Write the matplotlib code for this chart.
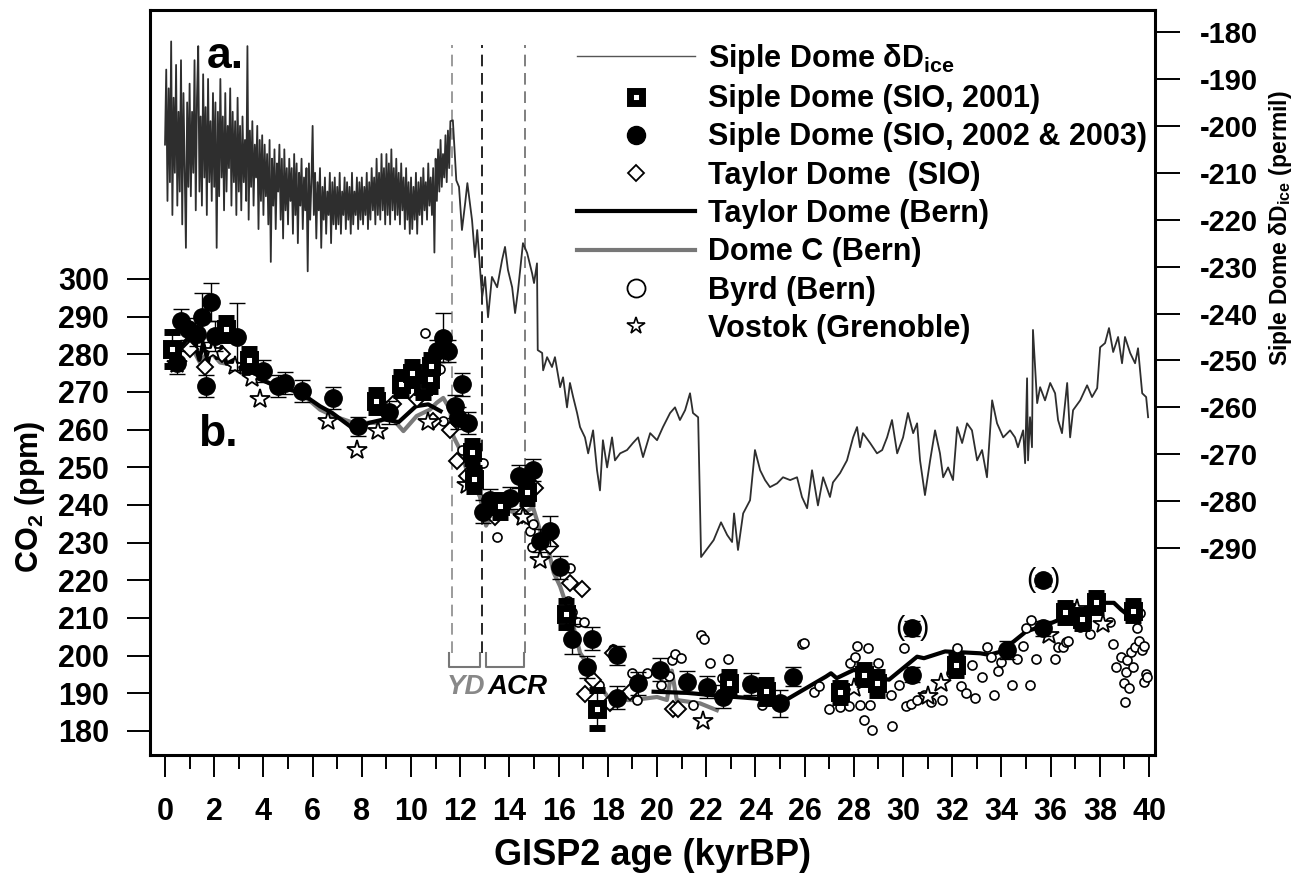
import numpy as np
import matplotlib
matplotlib.use("Agg")
import matplotlib.pyplot as plt
from matplotlib import font_manager
from matplotlib.lines import Line2D
from matplotlib.transforms import blended_transform_factory

names = {f.name for f in font_manager.fontManager.ttflist}
narrow = "Liberation Sans Narrow" if "Liberation Sans Narrow" in names else "Liberation Sans"
wide = "Liberation Sans"

plt.rcParams["font.family"] = [narrow, "DejaVu Sans"]
plt.rcParams["font.weight"] = "bold"
plt.rcParams["mathtext.default"] = "regular"
plt.rcParams["axes.unicode_minus"] = False

# ---- Siple Dome dD of ice (permil), Holocene part at 50-yr steps ----
dd_holo = [-204, -188, -216, -192, -212, -182, -219, -194, -210, -187, -217, -197, -214, -186, -221, -193, -209, -226, -195, -213,
           -191, -215, -197, -210, -186, -218, -194, -183, -214, -198, -217, -189, -211, -196, -219, -190, -212, -199, -216, -193,
           -213, -195, -226, -197, -215, -190, -211, -198, -218, -193, -214, -200, -209, -192, -217, -197, -212, -199, -219, -194,
           -214, -200, -218, -198, -212, -203, -216, -183, -220, -201, -213, -199, -217, -204, -211, -200, -222, -203, -216, -202,
           -219, -204, -215, -206, -221, -203, -229, -207, -217, -205, -222, -208, -214, -204, -220, -207, -224, -205, -218, -209,
           -221, -207, -216, -209, -223, -206, -219, -208, -225, -210, -217, -207, -222, -211, -218, -209, -231, -208, -220, -212,
           -200, -219, -210, -224, -212, -218, -209, -226, -213, -220, -211, -223, -214, -219, -210, -225, -212, -221, -211, -222,
           -213, -221, -210, -223, -214, -219, -211, -222, -212, -220, -213, -223, -210, -221, -214, -219, -211, -222, -212, -220,
           -211, -221, -213, -219, -210, -222, -212, -220, -209, -218, -211, -221, -207, -219, -210, -220, -206, -218, -209, -221,
           -206, -219, -208, -221, -205, -218, -209, -220, -207, -219, -210, -221, -208, -218, -211, -222, -209, -220, -212, -223,
           -211, -222, -213, -220, -210, -223, -212, -219, -211, -221, -209, -218, -212, -220, -208, -217, -211, -219, -209, -227,
           -207, -216, -205, -214, -203, -213, -206, -211, -202, -212, -201, -209, -199]
dd_holo_age = np.round(np.arange(len(dd_holo)) * 0.05, 2)

dd_tail_age = [11.70, 11.84, 11.95, 12.07, 12.20, 12.29, 12.48, 12.60, 12.69, 12.80,
               12.89, 13.01, 13.13, 13.29, 13.50, 13.70, 13.82, 13.94, 14.11, 14.23,
               14.35, 14.55, 14.72, 14.92, 15.00, 15.12, 15.15, 15.33, 15.37, 15.53,
               15.73, 15.85, 16.06, 16.18, 16.34, 16.46, 16.59, 16.75, 16.87, 17.07,
               17.20, 17.40, 17.56, 17.68, 17.80, 17.97, 18.17, 18.29, 18.50, 18.78,
               19.02, 19.23, 19.43, 19.72, 20.00, 20.24, 20.53, 20.73, 20.93, 21.14,
               21.34, 21.46, 21.67, 21.79, 22.30, 22.60, 22.85, 23.05, 23.13, 23.29,
               23.50, 23.78, 23.98, 24.19, 24.39, 24.59, 24.88, 25.12, 25.41, 25.69,
               25.89, 26.10, 26.30, 26.54, 26.75, 27.03, 27.15, 27.44, 27.72, 27.97,
               28.13, 28.25, 28.37, 28.66, 28.94, 29.15, 29.35, 29.55, 29.76, 30.00,
               30.20, 30.41, 30.57, 30.69, 30.89, 31.10, 31.30, 31.50, 31.63, 31.83,
               32.03, 32.20, 32.40, 32.60, 32.80, 33.01, 33.21, 33.41, 33.62, 33.82,
               34.07, 34.35, 34.55, 34.67, 34.88, 34.96, 35.04, 35.08, 35.16, 35.24,
               35.28, 35.45, 35.57, 35.77, 35.98, 36.18, 36.30, 36.46, 36.67, 36.79,
               36.91, 37.20, 37.48, 37.68, 37.89, 38.01, 38.21, 38.37, 38.54, 38.74,
               38.90, 39.02, 39.23, 39.43, 39.55, 39.72, 39.88, 39.96]
dd_tail = [-198.8, -211.6, -213.0, -222.2, -216.5, -212.2, -220.1, -228.0, -222.2, -230.1,
           -236.5, -232.2, -240.8, -232.2, -234.4, -228.6, -225.8, -230.7, -234.4, -239.9,
           -235.0, -225.0, -227.1, -231.4, -233.5, -229.3, -247.8, -248.4, -252.1, -249.3,
           -251.4, -249.3, -255.7, -253.6, -260.0, -254.8, -257.8, -261.2, -264.2, -266.4,
           -269.8, -264.9, -273.4, -277.7, -267.0, -272.8, -266.4, -271.3, -269.8, -269.1,
           -267.6, -266.4, -270.6, -265.5, -267.0, -264.2, -261.2, -260.0, -262.7, -260.6,
           -257.0, -261.2, -262.1, -291.9, -288.3, -284.5, -287.2, -288.7, -282.6, -290.4,
           -282.6, -279.8, -269.1, -273.4, -275.5, -277.0, -276.2, -274.9, -275.5, -274.9,
           -279.1, -281.5, -273.4, -280.9, -274.9, -279.1, -276.0, -274.0, -271.3, -266.4,
           -264.2, -268.5, -265.5, -267.6, -269.8, -269.1, -266.4, -262.7, -269.8, -266.4,
           -261.2, -265.5, -263.4, -271.3, -278.7, -271.3, -264.9, -269.8, -274.9, -272.8,
           -275.5, -264.2, -267.6, -263.4, -264.9, -271.3, -269.1, -274.9, -258.5, -263.4,
           -266.4, -264.9, -266.4, -268.5, -264.9, -271.9, -253.8, -271.3, -262.1, -268.5,
           -243.5, -259.1, -255.7, -258.5, -254.8, -257.0, -262.7, -265.5, -254.8, -266.4,
           -260.6, -258.5, -255.3, -257.8, -255.9, -247.2, -246.3, -243.1, -248.2, -245.0,
           -250.6, -245.0, -248.4, -250.6, -247.4, -257.0, -257.8, -262.1]

# ---- CO2 records (ppm) ----
sd01_age = [0.27, 2.48, 3.41, 8.58, 9.59, 10.03, 10.50, 10.77, 10.81, 12.47, 12.57, 13.60, 14.70,
            16.30, 17.55, 22.93, 24.43, 27.43, 28.43, 28.93, 32.14, 36.57, 37.29, 37.86, 39.36]
sd01_co2 = [281.3, 286.7, 278.5, 267.6, 272.2, 274.9, 271.6, 273.3, 276.9, 254.0, 246.8, 239.7, 243.5,
            211.0, 185.8, 192.6, 190.5, 190.2, 194.9, 192.6, 197.4, 211.5, 209.7, 214.1, 211.9]
sd01_err = [4.5, 3, 3, 3, 3, 3, 3, 3, 3, 3, 3, 3, 3,
            3.5, 5, 3, 3, 2.5, 2.5, 3, 2.5, 2.5, 2.5, 2.5, 2.5]

sd03_age = [0.47, 0.64, 0.95, 1.29, 1.49, 1.67, 1.87, 2.03, 2.91, 4.00, 4.61, 4.88, 5.56, 6.84,
            7.86, 9.12, 11.07, 11.31, 11.52, 11.79, 11.92, 12.06, 12.33, 12.94, 13.21, 14.02,
            14.40, 14.97, 15.24, 15.65, 16.06, 16.53, 17.14, 17.35, 18.36, 18.39, 19.24, 20.12,
            21.23, 22.02, 22.70, 23.81, 25.00, 25.51, 30.36, 30.36, 34.21, 35.69, 35.69]
sd03_co2 = [277.8, 288.9, 286.7, 285.3, 289.8, 271.6, 293.8, 284.9, 284.7, 275.6, 271.6, 272.4,
            270.2, 268.4, 260.9, 264.6, 280.9, 284.4, 280.9, 266.2, 263.1, 272.0, 261.8, 238.2,
            241.3, 241.8, 247.6, 249.3, 230.5, 233.1, 223.4, 204.5, 197.0, 204.5, 200.1, 188.8,
            192.6, 196.3, 193.0, 191.7, 189.1, 192.4, 187.3, 194.4, 207.2, 194.9, 201.5, 207.2, 220.0]
sd03_err = [3, 3, 3, 3, 6.5, 3, 5, 4, 9, 3, 3, 3, 3, 3, 2.5, 3, 3, 6.5, 3, 3, 3, 3, 3, 3, 3,
            3, 3, 3, 3, 4, 3, 4, 3, 3, 2.5, 3, 3, 3, 3, 3, 3, 3, 3.5, 2.5, 2, 2, 2.5, 2, 1.5]

tdsio_age = [1.02, 1.63, 2.30, 3.39, 9.28, 10.23, 10.91, 11.59, 11.86, 12.26, 13.41, 14.50, 15.04,
             15.65, 16.46, 16.94, 17.07, 17.41, 18.09, 18.22, 18.90, 20.64, 20.87]
tdsio_co2 = [281.3, 276.7, 280.0, 276.9, 266.7, 268.0, 262.2, 260.0, 251.6, 247.6, 236.9, 237.3,
             244.4, 229.2, 219.2, 217.7, 189.8, 193.5, 187.3, 200.7, 190.4, 185.7, 185.7]

tdbern_holo_age = [0.5, 0.9, 1.2, 1.4, 1.55, 1.75, 1.95, 2.1, 2.3, 2.5, 2.8, 3.1, 3.4, 3.8, 4.5,
                   5.5, 6.3, 6.8, 7.7, 8.3, 8.9, 9.5, 10.2, 10.7, 11.2]
tdbern_holo_co2 = [281.0, 284.0, 283.0, 278.5, 283.0, 278.0, 283.5, 279.0, 282.0, 277.5, 278.5,
                   276.5, 275.5, 273.5, 271.6, 269.8, 266.2, 264.4, 260.0, 261.8, 262.7, 262.0,
                   266.2, 266.7, 264.9]
tdbern_glac_age = [19.86, 21.2, 22.57, 24.0, 25.0, 26.86, 27.07, 27.3, 28.0, 29.0, 29.43, 30.57,
                   30.85, 31.71, 33.14, 33.5, 34.0, 35.0, 35.86, 36.86, 37.07, 37.43, 38.14, 38.57,
                   38.86, 39.21, 39.64]
tdbern_glac_co2 = [190.4, 190.1, 189.3, 188.6, 187.3, 194.4, 195.3, 194.0, 196.2, 194.0, 193.6,
                   199.7, 199.3, 201.1, 200.6, 200.2, 201.1, 206.4, 208.2, 210.9, 212.6, 212.6,
                   214.0, 214.0, 212.2, 210.4, 211.7]

domec_age = [0.61, 1.0, 1.42, 1.8, 2.24, 3.05, 3.86, 4.67, 5.35, 6.3, 6.84, 7.66, 8.6, 9.15, 9.69,
             10.23, 10.77, 11.04, 11.31, 11.59, 11.72, 11.99, 12.26, 12.53, 12.8, 13.05, 13.35,
             14.0, 14.5, 14.96, 15.24, 15.52, 15.8, 16.06, 16.33, 16.6, 16.87, 17.41, 17.68, 18.09,
             19.04, 20.0, 20.4, 20.6, 20.8, 21.75, 22.43]
domec_co2 = [281.3, 283, 277.8, 281, 277.8, 276.9, 273.8, 270.7, 270.7, 265.3, 263.6, 261.8, 261.8,
             263.6, 259.6, 263.6, 265.3, 267.1, 268.4, 265.3, 258.2, 254.7, 249.3, 245.8, 242.2,
             234.5, 238.4, 238.4, 237.5, 239.3, 233.3, 229.8, 222.0, 218.4, 213.1, 207.8, 200.7,
             195.4, 191.9, 188.2, 188.2, 189.0, 188.2, 196.0, 188.2, 187.3, 185.5]

byrd_age = [10.57, 11.18, 11.31, 12.06, 12.94, 13.48, 14.84, 14.90, 14.97, 16.40,
            16.46, 16.56, 16.60, 16.80, 17.05, 17.65, 18.22, 18.97, 19.20, 19.58,
            20.17, 20.50, 20.60, 20.74, 20.97, 21.46, 21.79, 21.89, 22.14, 22.64,
            22.89, 24.26, 25.88, 25.96, 26.36, 26.57, 26.97, 27.44, 27.79, 27.86,
            28.03, 28.14, 28.26, 28.40, 28.57, 28.64, 28.74, 29.00, 29.50, 29.57,
            29.83, 30.03, 30.11, 30.31, 30.57, 30.86, 31.14, 31.57, 31.93, 32.21,
            32.36, 32.57, 32.79, 32.93, 33.21, 33.43, 33.57, 33.69, 33.86, 34.00,
            34.43, 34.64, 34.86, 35.00, 35.17, 35.21, 35.39, 36.17, 36.31, 36.50,
            36.64, 36.71, 37.21, 37.60, 38.43, 38.54, 38.64, 38.86, 39.00, 39.03,
            39.07, 39.11, 39.17, 39.26, 39.36, 39.43, 39.50, 39.60, 39.64, 39.71,
            39.79, 39.79, 39.86, 39.90]
byrd_co2 = [285.6, 276.0, 262.2, 254.7, 251.0, 231.5, 233.2, 228.8, 235.0, 214.5,
            223.3, 211.5, 209.5, 209.0, 208.8, 192.3, 201.8, 195.5, 188.2, 195.3,
            192.1, 194.6, 198.8, 200.5, 199.4, 186.8, 205.4, 204.5, 198.1, 194.0,
            199.0, 186.9, 203.2, 203.4, 190.2, 191.9, 185.8, 186.3, 186.7, 198.0,
            199.5, 202.5, 186.9, 182.9, 201.9, 186.9, 180.3, 198.0, 189.6, 181.2,
            192.2, 201.9, 186.7, 187.2, 188.3, 189.6, 187.8, 188.1, 195.3, 201.9,
            192.0, 190.0, 197.5, 188.7, 194.4, 202.3, 199.7, 189.6, 195.8, 198.4,
            192.1, 199.0, 202.5, 207.2, 192.1, 209.5, 199.2, 199.2, 202.3, 202.3,
            203.6, 204.0, 207.6, 205.8, 208.9, 203.2, 197.0, 199.7, 192.6, 187.8,
            195.7, 198.8, 191.3, 201.0, 197.0, 202.3, 207.2, 204.0, 211.2, 201.4,
            202.5, 192.9, 195.1, 194.2]

vostok_age = [0.50, 1.96, 2.85, 3.52, 3.86, 6.64, 7.79, 8.67, 10.67, 12.26, 14.57, 15.24,
              21.86, 28.00, 31.00, 31.54, 35.93, 37.07, 38.14]
vostok_co2 = [277.3, 280.9, 276.9, 273.8, 268.0, 262.2, 254.7, 259.6, 262.0, 245.3, 236.9, 225.5,
              182.6, 191.5, 189.3, 192.8, 205.5, 212.3, 208.4]

# questionable points shown in brackets
bracket_age = [30.36, 35.69]
bracket_co2 = [207.2, 220.0]

# YD / ACR boundaries (kyrBP)
event_bounds = [11.67, 12.89, 14.63]
yd_span = [11.54, 12.80]
acr_span = [13.05, 14.59]

co2_ticks = list(range(180, 301, 10))
dd_ticks = list(range(-290, -179, 10))

# ---- figure ----
fig = plt.figure(figsize=(13.04, 8.75), dpi=100)
ax = fig.add_axes([150 / 1304, 1 - 755 / 875, 1005 / 1304, 745 / 875])
ax2 = ax.twinx()

ax.set_xlim(-0.61, 40.24)
ax.set_ylim(173.6, 371.4)
ax2.set_ylim(-334.1, -175.3)

# Dome C and Taylor Dome (Bern) lines
ax.plot(domec_age, domec_co2, color="#7a7a7a", lw=3, zorder=2)
ax.plot(tdbern_holo_age, tdbern_holo_co2, color="black", lw=3, zorder=2.1)
ax.plot(tdbern_glac_age, tdbern_glac_co2, color="black", lw=3, zorder=2.1)

ax.plot(byrd_age, byrd_co2, ls="none", marker="o", ms=6.5, mfc="white", mec="black", mew=1.2, zorder=3)
ax.plot(tdsio_age, tdsio_co2, ls="none", marker="D", ms=8, mfc="white", mec="black", mew=1.4, zorder=3.2)
ax.plot(vostok_age, vostok_co2, ls="none", marker="*", ms=15, mfc="white", mec="black", mew=1.3, zorder=3.3)

ebkw = dict(ecolor="black", elinewidth=1.0, capsize=6, capthick=1.0, ls="none")
ax.errorbar(sd03_age, sd03_co2, yerr=sd03_err, marker="o", ms=12.5, mfc="black", mec="black",
            zorder=4, **ebkw)
ax.errorbar(sd01_age, sd01_co2, yerr=sd01_err, marker="s", ms=9, mfc="white", mec="black",
            mew=5, zorder=4.5, **ebkw)

for a, c in zip(bracket_age, bracket_co2):
    ax.text(a - 0.5, c, "(", fontsize=20, fontweight="normal", family=wide, ha="center", va="center")
    ax.text(a + 0.5, c, ")", fontsize=20, fontweight="normal", family=wide, ha="center", va="center")

# dD record
ax2.plot(np.concatenate([dd_holo_age, dd_tail_age]), np.concatenate([dd_holo, dd_tail]),
         color="#2e2e2e", lw=1.3, zorder=2)

# YD / ACR markers
colors_ev = ["#8a8a8a", "black", "#6a6a6a"]
for xb, cb in zip(event_bounds, colors_ev):
    ax.axvline(xb, ymin=(755 - 653) / 745, ymax=(755 - 45) / 745, color=cb, lw=1.2,
               ls=(0, (7, 4)), zorder=1)
tr = blended_transform_factory(ax.transData, ax.transAxes)
yb0, yb1 = (755 - 653) / 745, (755 - 667) / 745
for span in (yd_span, acr_span):
    ax.plot([span[0], span[0], span[1], span[1]], [yb0, yb1, yb1, yb0], color="#777777",
            lw=1.5, transform=tr, zorder=1)
ax.text(np.mean(yd_span) + 0.05, (755 - 687) / 745, "YD", transform=tr, color="#888888",
        fontsize=20, family=wide, style="italic", ha="center", va="center")
ax.text(np.mean(acr_span) + 0.5, (755 - 687) / 745, "ACR", transform=tr, color="black",
        fontsize=20, family=wide, style="italic", ha="center", va="center")

ax.text((225 - 150) / 1005, (755 - 57) / 745, "a.", transform=ax.transAxes, fontsize=32,
        family=wide, ha="center", va="center")
ax.text((218 - 150) / 1005, (755 - 435) / 745, "b.", transform=ax.transAxes, fontsize=32,
        family=wide, ha="center", va="center")

# axes styling
for sp in ax.spines.values():
    sp.set_linewidth(2.2)
ax.set_xticks(range(0, 41, 2))
ax.set_xticks(range(0, 41, 1), minor=True)
ax.set_yticks(co2_ticks)
ax2.set_yticks(dd_ticks)
ax.tick_params(axis="x", which="major", direction="out", length=16, width=1.4, pad=14, labelsize=22)
ax.tick_params(axis="x", which="minor", direction="out", length=10, width=1.4)
ax.tick_params(axis="y", direction="out", length=16.5, width=1.4, pad=13, labelsize=22)
ax2.tick_params(axis="y", direction="out", length=18, width=1.4, pad=14, labelsize=21)

ax.set_xlabel("GISP2 age (kyrBP)", fontsize=26, fontweight="bold", labelpad=8)
fig.text(30 / 1304, 1 - 497 / 875, "CO$_2$ (ppm)", rotation=90, fontsize=22, ha="center", va="center")
fig.text(1280 / 1304, 1 - 228 / 875, r"Siple Dome $\delta$D$_{ice}$ (permil)", rotation=90,
         fontsize=16.5, ha="center", va="center")

# legend
handles = [
    Line2D([], [], color="#555555", lw=1.0),
    Line2D([], [], ls="none", marker="s", ms=9, mfc="white", mec="black", mew=5),
    Line2D([], [], ls="none", marker="o", ms=13, color="black"),
    Line2D([], [], ls="none", marker="D", ms=8, mfc="white", mec="black", mew=1.3),
    Line2D([], [], color="black", lw=3),
    Line2D([], [], color="#777777", lw=3),
    Line2D([], [], ls="none", marker="o", ms=13, mfc="white", mec="black", mew=1.3),
    Line2D([], [], ls="none", marker="*", ms=13, mfc="white", mec="black", mew=1.2),
]
labels = [r"Siple Dome $\delta$D$_{ice}$", "Siple Dome (SIO, 2001)", "Siple Dome (SIO, 2002 & 2003)",
          "Taylor Dome  (SIO)", "Taylor Dome (Bern)", "Dome C (Bern)", "Byrd (Bern)",
          "Vostok (Grenoble)"]
leg = ax2.legend(handles, labels, loc="upper left", bbox_to_anchor=(577 / 1304, 1 - 42 / 875),
                 bbox_transform=fig.transFigure, frameon=False, borderpad=0, borderaxespad=0,
                 handlelength=3.86, handletextpad=0.42, labelspacing=0.27,
                 prop={"family": wide, "weight": "bold", "size": 22})

fig.savefig("out.png", dpi=100)
